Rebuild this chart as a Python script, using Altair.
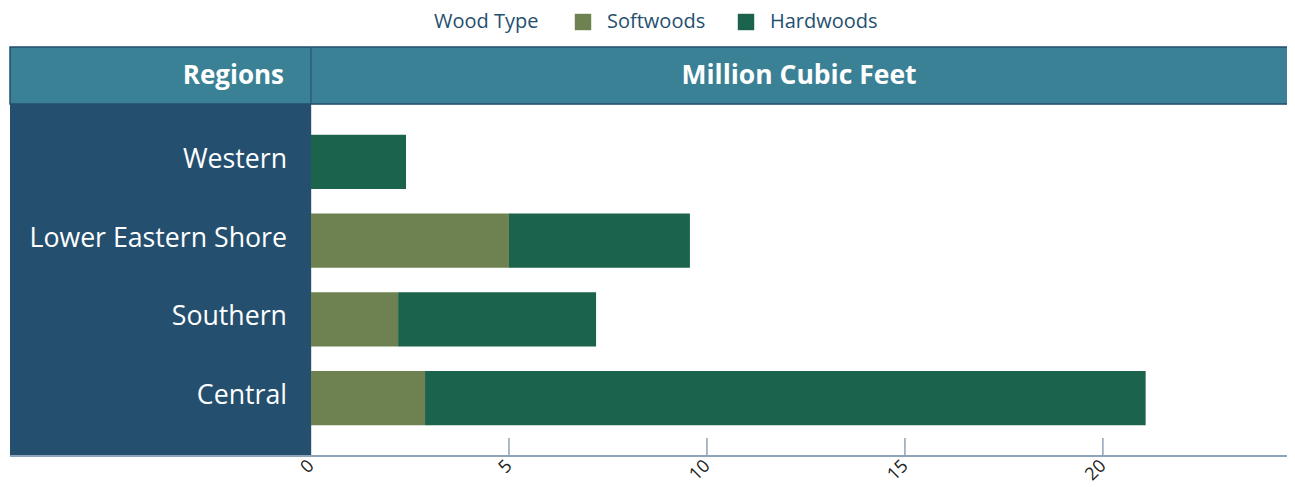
import altair as alt
import pandas as pd

regions = ["Western", "Lower Eastern Shore", "Southern", "Central"]
softwoods = [0.0, 5.0, 2.2, 2.88]
hardwoods = [2.4, 4.57, 5.0, 18.2]
wood_types = ["Softwoods", "Hardwoods"]
wood_colors = ["#6e8150", "#1c634d"]
tick_values = [0, 5, 10, 15, 20]
header_left = "Regions"
header_right = "Million Cubic Feet"
legend_title = "Wood Type"

W = 976
H = 352
FONT = "Open Sans"
DARK = "#244f6f"
TEAL = "#3a8195"
AXIS = "#8ea4b8"

rows = []
for r, s, h in zip(regions, softwoods, hardwoods):
    rows.append({"region": r, "type": "Softwoods", "value": s, "ord": 0})
    rows.append({"region": r, "type": "Hardwoods", "value": h, "ord": 1})
bars_df = pd.DataFrame(rows)
labels_df = pd.DataFrame({"region": regions})
one = pd.DataFrame({"a": [0]})
ticks_df = pd.DataFrame({"v": [t for t in tick_values if t > 0]})

xscale = alt.Scale(domain=[0, 24.65], nice=False, zero=True)
yscale = alt.Scale(paddingInner=0.31, paddingOuter=0.39)

left_panel = alt.Chart(one).mark_rect(color=DARK).encode(
    x=alt.value(-301), x2=alt.value(0), y=alt.value(0), y2=alt.value(H)
)
header = alt.Chart(one).mark_rect(color=TEAL, stroke=DARK, strokeWidth=1.5).encode(
    x=alt.value(-301), x2=alt.value(W + 30), y=alt.value(-57), y2=alt.value(0)
)
divider = alt.Chart(one).mark_rule(color=DARK, strokeWidth=1).encode(
    x=alt.value(0), y=alt.value(-57), y2=alt.value(0)
)
header_txt_l = alt.Chart(one).mark_text(
    text=header_left, align="right", baseline="middle", font=FONT,
    fontSize=26, fontWeight="bold", color="white"
).encode(x=alt.value(-27), y=alt.value(-28))
header_txt_r = alt.Chart(one).mark_text(
    text=header_right, align="center", baseline="middle", font=FONT,
    fontSize=26.5, fontWeight="bold", color="white"
).encode(x=alt.value(W / 2), y=alt.value(-28))

bars = alt.Chart(bars_df).mark_bar().encode(
    x=alt.X("value:Q", stack="zero", scale=xscale,
            axis=alt.Axis(values=tick_values, labelAngle=-45, domain=False,
                          ticks=False, grid=False, title=None,
                          labelAlign="right", labelBaseline="middle",
                          labelFontSize=18, labelColor="#222", labelFont=FONT,
                          labelPadding=7)),
    y=alt.Y("region:N", sort=regions, scale=yscale, axis=None),
    color=alt.Color("type:N", scale=alt.Scale(domain=wood_types, range=wood_colors),
                    legend=alt.Legend(title=legend_title, orient="none",
                                      legendX=123, legendY=-92,
                                      direction="horizontal", titleOrient="left",
                                      symbolType="square", symbolSize=270,
                                      symbolStrokeWidth=0, labelFontSize=20,
                                      titleFontSize=20, titleFontWeight="normal",
                                      titleColor=DARK, labelColor=DARK,
                                      titleFont=FONT, labelFont=FONT,
                                      titlePadding=34, labelOffset=14,
                                      columnPadding=30)),
    order=alt.Order("ord:Q"),
)
region_labels = alt.Chart(labels_df).mark_text(
    align="right", baseline="middle", font=FONT, fontSize=26.7, color="white", dy=-2
).encode(
    y=alt.Y("region:N", sort=regions, scale=yscale, axis=None),
    x=alt.value(-24),
    text="region:N",
)
tick_rules = alt.Chart(ticks_df).mark_rule(color=AXIS, strokeWidth=1.5).encode(
    x=alt.X("v:Q", scale=xscale), y=alt.value(H - 18), y2=alt.value(H)
)
axis_line = alt.Chart(one).mark_rule(color=AXIS, strokeWidth=2).encode(
    x=alt.value(-301), x2=alt.value(W + 30), y=alt.value(H)
)

chart = alt.layer(
    left_panel, header, divider, header_txt_l, header_txt_r,
    bars, region_labels, tick_rules, axis_line
).properties(
    width=W, height=H,
    autosize=alt.AutoSizeParams(type="none"),
    padding={"left": 303, "top": 96, "right": 0, "bottom": 31},
).configure_view(strokeWidth=0, stroke="transparent").configure(font=FONT)

chart.save("out.html", embed_options={"renderer": "svg", "actions": False})
